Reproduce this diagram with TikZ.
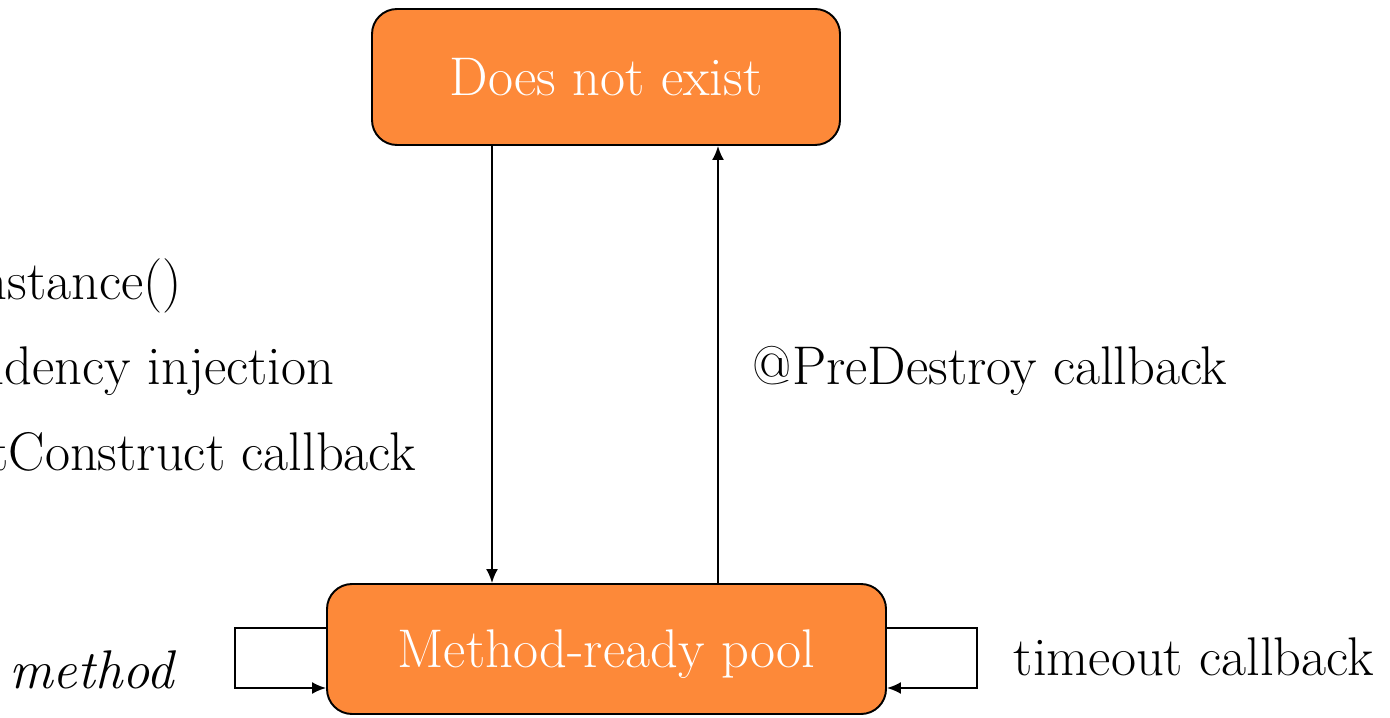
\documentclass[tikz,border=0pt]{standalone}
\usepackage{tikz}
\usetikzlibrary{arrows.meta}
\definecolor{stateorange}{RGB}{253,137,57}
\begin{document}
\begin{tikzpicture}[line width=1.1pt,
  >={Latex[length=0.28cm,width=0.24cm]},
  state/.style = {shape=rectangle, rounded corners=0.5cm, draw, fill=stateorange,
    text=white, text depth=0pt, font=\fontsize{31}{37}\selectfont},
  txt/.style = {inner sep=0pt, font=\fontsize{31}{37}\selectfont}]
  \useasboundingbox (0,0) rectangle (27.8,14.34);

  \node[state, minimum width=9.36cm, minimum height=2.72cm] (DoesNotExist) at (12.12,12.8) {Does not exist};
  \node[state, minimum width=11.18cm, minimum height=2.6cm] (Pool) at (12.13,1.36) {Method-ready pool};

  \node[txt, anchor=base east] (NewInstance) at (3.66,8.34) {newInstance()};
  \node[txt, anchor=base east] (Injection) at (6.7,6.64) {dependency injection};
  \node[txt, anchor=base east] (PostConstruct) at (8.34,4.94) {@PostConstruct callback};
  \node[txt, anchor=base west] (PreDestroy) at (15.04,6.64) {@PreDestroy callback};
  \node[txt, anchor=base west] (Timeout) at (20.26,0.84) {timeout callback};
  \node[txt, anchor=base east] (Method) at (3.5,0.58) {\itshape method};

  \draw[->] ([xshift=-2.28cm]DoesNotExist.south) -- ([xshift=-2.28cm]DoesNotExist.south |- Pool.north);
  \draw[->] ([xshift=2.24cm]DoesNotExist.south |- Pool.north) -- ([xshift=2.24cm]DoesNotExist.south);
  \draw[->] ([yshift=0.42cm]Pool.west) -- ++(-1.82,0) |- ([yshift=-0.78cm]Pool.west);
  \draw[->] ([yshift=0.42cm]Pool.east) -- ++(1.8,0) |- ([yshift=-0.78cm]Pool.east);
\end{tikzpicture}
\end{document}
